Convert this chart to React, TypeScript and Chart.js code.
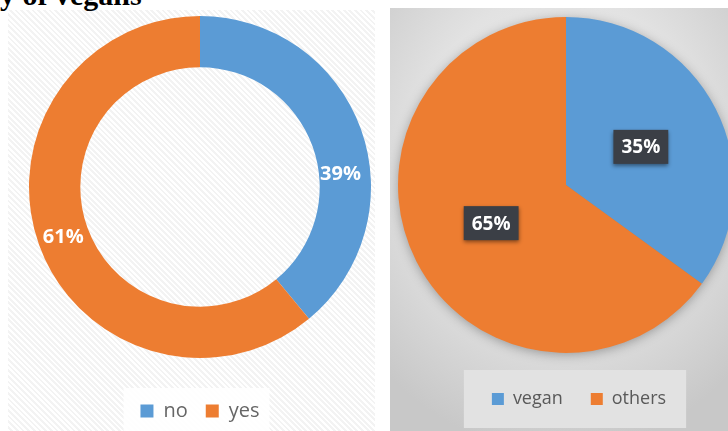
import React, { useEffect, useRef } from "react";
import { Chart, registerables } from "chart.js";

Chart.register(...registerables);

// ---- data ----
const ringLabels = ["no", "yes"];
const ringValues = [39, 61];
const pieLabels = ["vegan", "others"];
const pieValues = [35, 65];
const seriesColors = ["#5b9bd5", "#ed7d31"];
const headingText = "y of vegans";

const panelPlugin = {
  id: "panel",
  afterLayout(chart: any, _a: any, opts: any) {
    if (opts && opts.legendShift && chart.legend) {
      chart.legend.left += opts.legendShift;
      chart.legend.right += opts.legendShift;
    }
  },
  beforeDraw(chart: any, _a: any, opts: any) {
    const ctx = chart.ctx;
    const lg = chart.legend;
    const hb = lg && lg.legendHitBoxes;
    if (opts && opts.legendBg && hb && hb.length) {
      const b = opts.legendBg;
      const l = Math.min(...hb.map((h: any) => h.left)) - b.padL;
      const r = Math.max(...hb.map((h: any) => h.left + h.width)) + b.padR;
      const t = hb[0].top - b.padT;
      const bot = chart.height - b.padB;
      ctx.save();
      ctx.fillStyle = b.color;
      ctx.fillRect(l, t, r - l, bot - t);
      ctx.restore();
    }
  },
  beforeDatasetsDraw(chart: any, _a: any, opts: any) {
    if (!opts || !opts.shadow) return;
    const arc = chart.getDatasetMeta(0).data[0];
    if (!arc) return;
    const p = arc.getProps(["x", "y", "outerRadius"], true);
    const ctx = chart.ctx;
    ctx.save();
    ctx.shadowColor = opts.shadow.color;
    ctx.shadowBlur = opts.shadow.blur;
    ctx.shadowOffsetY = opts.shadow.offsetY || 0;
    ctx.fillStyle = "#888";
    ctx.beginPath();
    ctx.arc(p.x, p.y, p.outerRadius - 1, 0, Math.PI * 2);
    ctx.fill();
    ctx.restore();
  },
  afterDatasetsDraw(chart: any, _a: any, opts: any) {
    if (!opts || !opts.labels) return;
    const L = opts.labels;
    const ctx = chart.ctx;
    const ds = chart.data.datasets[0].data as number[];
    const arcs = chart.getDatasetMeta(0).data;
    ctx.save();
    ctx.font = `bold ${L.size}px "Open Sans", sans-serif`;
    ctx.textAlign = "center";
    ctx.textBaseline = "middle";
    arcs.forEach((arc: any, i: number) => {
      const p = arc.getProps(["x", "y", "startAngle", "endAngle", "innerRadius", "outerRadius"], true);
      const frac = L.angleFrac ? L.angleFrac[i] : 0.5;
      const rf = Array.isArray(L.radiusFrac) ? L.radiusFrac[i] : L.radiusFrac;
      const ang = p.startAngle + frac * (p.endAngle - p.startAngle);
      const r = p.innerRadius + rf * (p.outerRadius - p.innerRadius);
      const x = p.x + Math.cos(ang) * r;
      const y = p.y + Math.sin(ang) * r;
      const text = `${ds[i]}%`;
      if (L.box) {
        const w = ctx.measureText(text).width + 16;
        const h = 34;
        ctx.save();
        ctx.shadowColor = "rgba(0,0,0,0.45)";
        ctx.shadowBlur = 4;
        ctx.shadowOffsetY = 2;
        ctx.fillStyle = L.box;
        ctx.fillRect(x - w / 2, y - h / 2, w, h);
        ctx.restore();
      }
      ctx.fillStyle = L.color;
      ctx.fillText(text, x, y + 1);
    });
    ctx.restore();
  },
};

function RingChart() {
  const ref = useRef<HTMLCanvasElement>(null);
  useEffect(() => {
    const chart = new Chart(ref.current as HTMLCanvasElement, {
      type: "doughnut",
      data: {
        labels: ringLabels,
        datasets: [{ data: ringValues, backgroundColor: seriesColors, borderWidth: 0, hoverBorderWidth: 0 }],
      },
      options: {
        responsive: false,
        animation: false,
        devicePixelRatio: 1,
        cutout: "70%",
        layout: { padding: { left: 21, right: 7, top: 4, bottom: 0 } },
        plugins: {
          tooltip: { enabled: false },
          legend: {
            position: "bottom",
            labels: {
              boxWidth: 13,
              boxHeight: 13,
              padding: 18,
              color: "#666666",
              font: { family: "Open Sans", size: 20, weight: "500" },
            },
            title: { display: true, text: "", font: { size: 10, lineHeight: 1 }, padding: { top: 15, bottom: 0 } },
          },
          panel: {
            legendBg: { color: "rgba(255,255,255,0.85)", padL: 17, padR: 10, padT: 13, padB: 0 },
            labels: { size: 20, color: "#ffffff", radiusFrac: [0.42, 0.5], angleFrac: [0.6, 0.5] },
          },
        } as any,
      },
      plugins: [panelPlugin],
    });
    return () => chart.destroy();
  }, []);
  return <canvas ref={ref} width={370} height={419} style={{ position: "absolute", left: 0, top: 0 }} />;
}

function PieChart() {
  const ref = useRef<HTMLCanvasElement>(null);
  useEffect(() => {
    const chart = new Chart(ref.current as HTMLCanvasElement, {
      type: "pie",
      data: {
        labels: pieLabels,
        datasets: [{ data: pieValues, backgroundColor: seriesColors, borderWidth: 0, hoverBorderWidth: 0 }],
      },
      options: {
        responsive: false,
        animation: false,
        devicePixelRatio: 1,
        layout: { padding: { left: 8, right: 16, top: 9, bottom: 13 } },
        plugins: {
          tooltip: { enabled: false },
          legend: {
            position: "bottom",
            labels: {
              boxWidth: 12,
              boxHeight: 12,
              padding: 28,
              color: "#595959",
              font: { family: "Open Sans", size: 18, weight: "500" },
            },
            title: { display: true, text: "", font: { size: 9, lineHeight: 1 }, padding: { top: 0, bottom: 0 } },
          },
          panel: {
            legendShift: 13,
            legendBg: { color: "#e2e2e2", padL: 28, padR: 20, padT: 20, padB: 3 },
            shadow: { color: "rgba(0,0,0,0.35)", blur: 12, offsetY: 2 },
            labels: { size: 19, color: "#ffffff", radiusFrac: 0.5, box: "#3b3f46" },
          },
        } as any,
      },
      plugins: [panelPlugin],
    });
    return () => chart.destroy();
  }, []);
  return <canvas ref={ref} width={360} height={423} style={{ position: "absolute", left: 0, top: 0 }} />;
}

export default function App() {
  return (
    <div
      style={{
        position: "absolute",
        left: 0,
        top: 0,
        width: 728,
        height: 431,
        overflow: "hidden",
        background: "#ffffff",
      }}
    >
      <div
        style={{
          position: "absolute",
          left: 8,
          top: 10,
          width: 367,
          height: 421,
          background: "repeating-linear-gradient(45deg, #ffffff 0px, #ffffff 2px, #f3f3f3 2px, #f3f3f3 4px)",
        }}
      />
      <div style={{ position: "absolute", left: 8, top: 12, width: 370, height: 419 }}>
        <RingChart />
      </div>
      <div
        style={{
          position: "absolute",
          left: 390,
          top: 8,
          width: 338,
          height: 423,
          overflow: "hidden",
          background: "radial-gradient(ellipse 75% 70% at 50% 35%, #ededed 0%, #e2e2e2 55%, #c8c8c8 100%)",
        }}
      >
        <PieChart />
      </div>
      <div
        style={{
          position: "absolute",
          left: 0,
          top: -20,
          fontFamily: '"Liberation Serif", "Times New Roman", serif',
          fontWeight: "bold",
          fontSize: 30,
          lineHeight: "30px",
          color: "#000",
          whiteSpace: "nowrap",
        }}
      >
        {headingText}
      </div>
    </div>
  );
}
